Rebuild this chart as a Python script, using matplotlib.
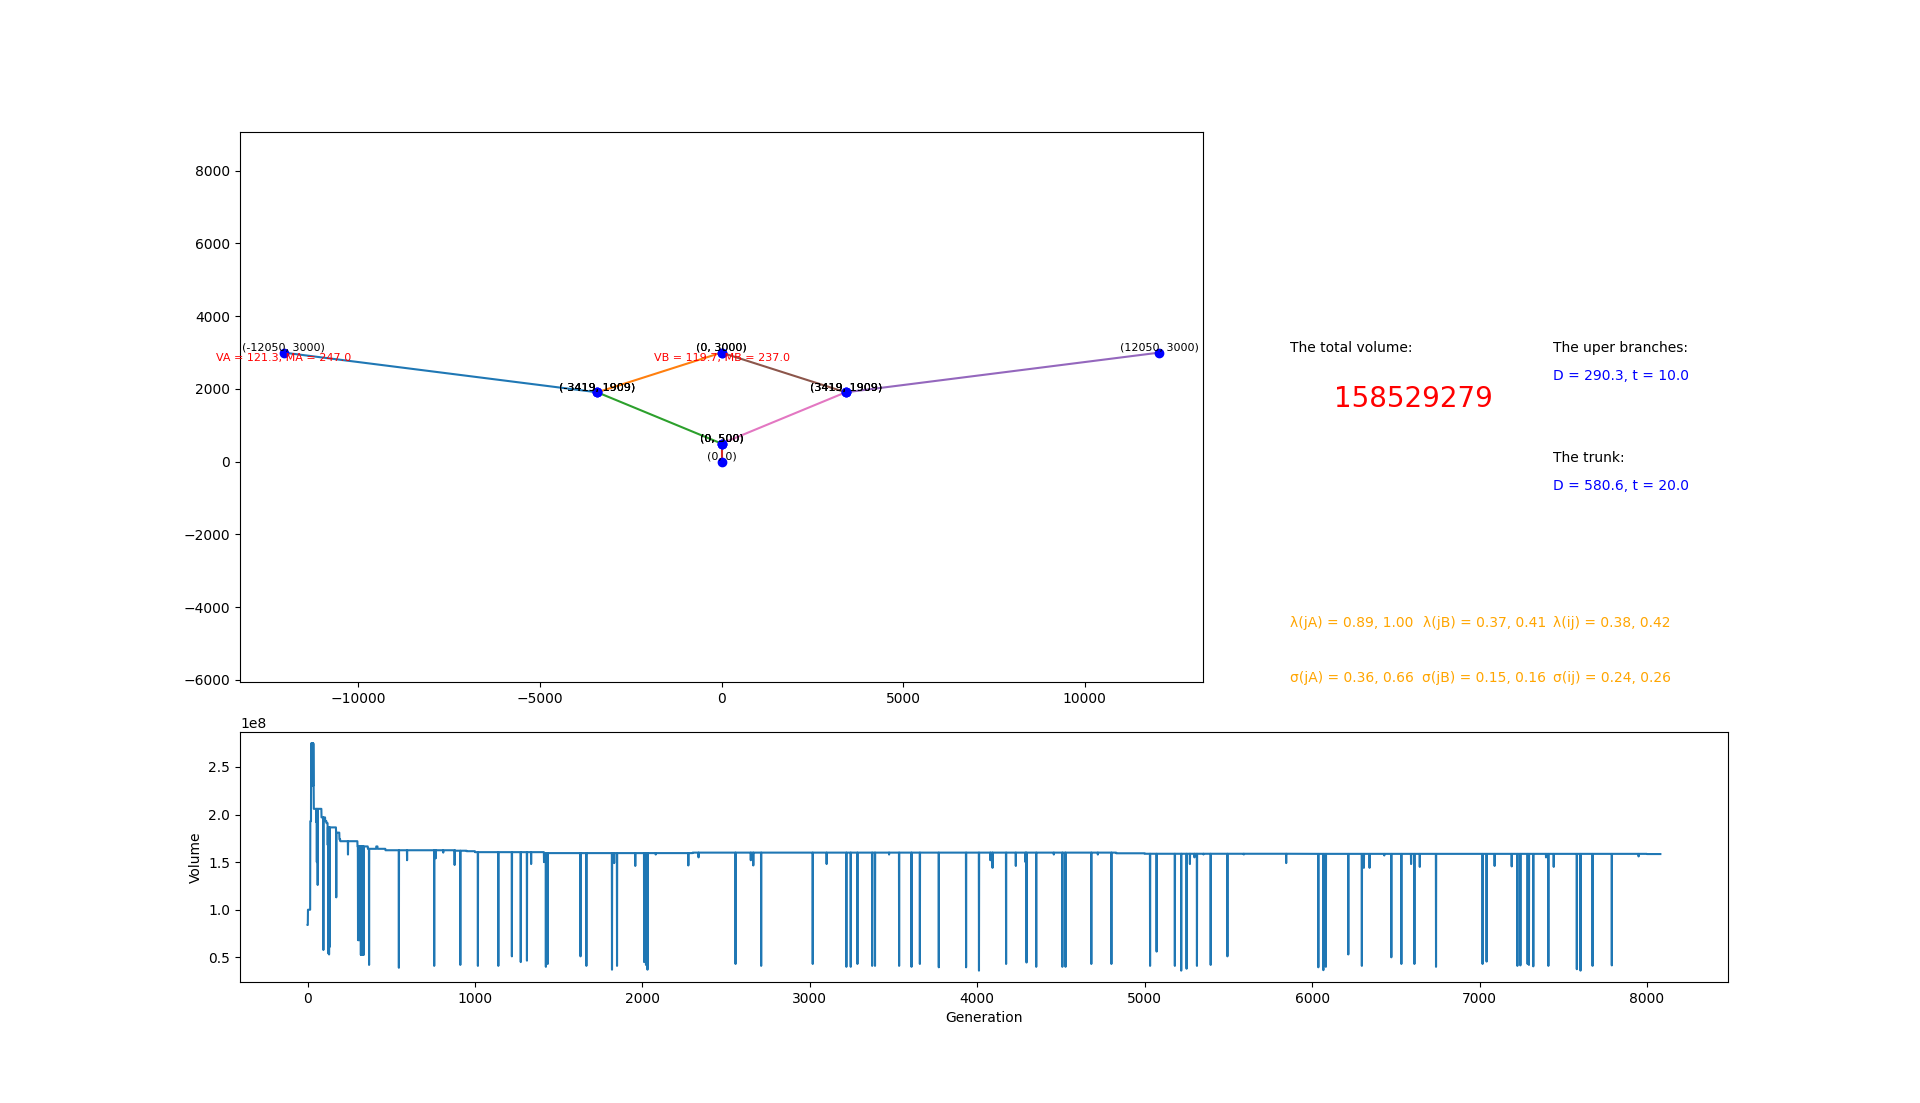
import numpy as np
import matplotlib
matplotlib.use("Agg")
import matplotlib.pyplot as plt

node_labels = ["(-12050, 3000)", "(-3419, 1909)", "(0, 3000)", "(0, 500)", "(0, 0)", "(3419, 1909)", "(12050, 3000)"]
node_x = [-12050, -3419, 0, 0, 0, 3419, 12050]
node_y = [3000, 1909, 3000, 500, 0, 1909, 3000]
segments = [(0, 1), (1, 2), (1, 3), (3, 4), (5, 6), (2, 5), (3, 5)]

step_gen = [0, 2, 16, 21, 37, 83, 105, 113, 120, 170, 190, 195, 298, 360, 410, 418, 465, 880, 950, 1000, 1412, 2300, 4830, 5000, 6000, 8000]
step_vol = [.84, 1.0, 1.93, 2.748, 2.06, 1.97, 1.93, 1.91, 1.865, 1.81, 1.74, 1.72, 1.665, 1.64, 1.665, 1.64, 1.625, 1.62, 1.615, 1.605, 1.595, 1.60, 1.593, 1.588, 1.587, 1.585]
last_gen = 8080

dip_gen = [24, 28, 33, 35, 36, 52, 55, 60, 94, 120, 124, 128, 132, 171, 241, 301, 304, 307, 310, 318, 322, 326, 330, 335, 367,
           545, 594, 756, 765, 810, 878, 912, 1017, 1139, 1220, 1273, 1310, 1335, 1412, 1423, 1434, 1630, 1665,
           1818, 1831, 1848, 1957, 2010, 2021, 2030, 2079, 2274, 2335, 2556, 2647, 2662, 2709,
           3017, 3100, 3218, 3244, 3284, 3372, 3389, 3473, 3533, 3607, 3657, 3770, 3933, 4010, 4078, 4091,
           4172, 4230, 4288, 4294, 4352, 4457, 4508, 4527, 4681, 4720, 4801, 5032, 5071, 5180, 5218, 5250,
           5270, 5297, 5312, 5351, 5394, 5494, 5592, 5845, 6037, 6067, 6082,
           6216, 6297, 6309, 6343, 6431, 6473, 6533, 6591, 6611, 6643, 6740, 7018, 7042, 7090, 7192, 7226,
           7244, 7287, 7295, 7321, 7397, 7411, 7443, 7581, 7603, 7675, 7790, 7950]
dip_vol = [2.3, 2.3, 2.3, 2.3, 2.3, 1.92, 1.5, 1.26, .577, 1.68, .54, .53, .61, 1.13, 1.58, .68, .68, .68, .68, .525, .525, .525, .525, .525, .42,
           .39, 1.52, .41, 1.54, 1.6, 1.47, .42, .41, .41, .51, .45, .465, 1.48, 1.5, .40, .43, .51, .41,
           .37, 1.49, .41, 1.46, .45, .42, .37, 1.58, 1.465, 1.55, .43, 1.52, 1.465, .41,
           .43, 1.48, .40, .40, .43, .41, .41, 1.58, .41, .40, .43, .395, .395, .36, 1.52, 1.44,
           .43, 1.46, 1.50, .445, .40, 1.58, .40, .40, .43, 1.58, .43, .41, .56, .41, .36, .38,
           1.48, 1.55, .41, 1.58, .42, .51, 1.58, 1.49, .395, .365, .40,
           .53, .41, 1.44, 1.44, 1.57, .50, .43, 1.48, .43, 1.45, .40, .43, .455, 1.46, 1.455, .41,
           .415, .43, .42, .405, 1.55, .41, 1.45, .375, .36, .41, .415, 1.56]

generation = np.arange(last_gen + 1)
volume = np.array(step_vol)[np.searchsorted(step_gen, generation, side="right") - 1] * 1e8
volume[dip_gen] = np.array(dip_vol) * 1e8

W, H = 1920, 1103
fig = plt.figure(figsize=(W / 100, H / 100), dpi=100)

def rect(l, t, r, b):
    return [l / W, 1 - b / H, (r - l) / W, (b - t) / H]

ax1 = fig.add_axes(rect(240, 132, 1203, 682))
for a, b in segments:
    ax1.plot([node_x[a], node_x[b]], [node_y[a], node_y[b]])
for a, b in segments:
    for n in (a, b):
        ax1.plot(node_x[n], node_y[n], "bo")
        ax1.text(node_x[n], node_y[n], node_labels[n], fontsize=8, ha="center", va="bottom")
ax1.text(-12050, 3000, "VA = 121.3, MA = 247.0", color="red", fontsize=8, ha="center", va="top")
ax1.text(0, 3000, "VB = 119.7, MB = 237.0", color="red", fontsize=8, ha="center", va="top")
ax1.set_xlim(-13255, 13255)
ax1.set_ylim(-6055, 9065)

ax2 = fig.add_axes(rect(240, 732, 1728, 982))
ax2.plot(generation, volume)
ax2.set_xlabel("Generation")
ax2.set_ylabel("Volume")

def label(x, y, s, **kw):
    fig.text(x / W, 1 - y / H, s, va="baseline", ha="left", **kw)

label(1290, 352, "The total volume:")
label(1334, 407, "158529279", color="red", fontsize=20)
label(1553, 352, "The uper branches:")
label(1553, 380, "D = 290.3, t = 10.0", color="blue")
label(1553, 462, "The trunk:")
label(1553, 490, "D = 580.6, t = 20.0", color="blue")
label(1290, 627, "λ(jA) = 0.89, 1.00", color="orange")
label(1423, 627, "λ(jB) = 0.37, 0.41", color="orange")
label(1553, 627, "λ(ij) = 0.38, 0.42", color="orange")
label(1290, 682, "σ(jA) = 0.36, 0.66", color="orange")
label(1422, 682, "σ(jB) = 0.15, 0.16", color="orange")
label(1553, 682, "σ(ij) = 0.24, 0.26", color="orange")

fig.savefig("out.png", dpi=100)
